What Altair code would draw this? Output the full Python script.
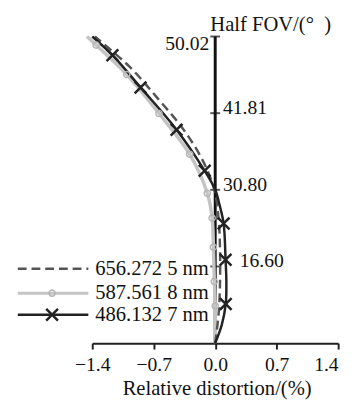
import altair as alt
import pandas as pd

FONT = "'Liberation Serif', 'Times New Roman', Times, 'DejaVu Serif', serif"

SERIES = ["656.272 5 nm", "587.561 8 nm", "486.132 7 nm"]

# normalized field (0..1) vs relative distortion (%)
FIELD_656 = [0.0, 0.1, 0.2, 0.3, 0.4, 0.5, 0.6, 0.7, 0.8, 0.9, 1.0]
DIST_656 = [0.0, 0.04, 0.055, 0.055, 0.04, -0.01, -0.15, -0.37, -0.66, -0.97, -1.37]

FIELD_588 = [0.0, 0.121, 0.201, 0.313, 0.408, 0.489, 0.616, 0.749, 0.876, 0.972, 1.0]
DIST_588 = [0.0, 0.0, -0.01, -0.02, -0.035, -0.09, -0.29, -0.64, -1.007, -1.356, -1.46]
MARK_588 = [0, 1, 1, 1, 1, 1, 1, 1, 1, 1, 0]

FIELD_486 = [0.0, 0.06, 0.128, 0.2, 0.272, 0.39, 0.45, 0.5, 0.562, 0.696, 0.834, 0.939, 1.0]
DIST_486 = [0.0, 0.075, 0.12, 0.127, 0.118, 0.096, 0.05, 0.0, -0.12, -0.44, -0.85, -1.17, -1.40]
MARK_486 = [0, 0, 1, 0, 1, 1, 0, 0, 1, 1, 1, 1, 0]

Y_TICKS = [0.25, 0.5, 0.75, 1.0]
Y_TICK_LABELS = ["16.60", "30.80", "41.81", "50.02"]
X_TICKS = [-1.4, -0.7, 0.0, 0.7, 1.4]

df656 = pd.DataFrame({"field": FIELD_656, "dist": DIST_656})
df588 = pd.DataFrame({"field": FIELD_588, "dist": DIST_588, "mark": MARK_588})
df486 = pd.DataFrame({"field": FIELD_486, "dist": DIST_486, "mark": MARK_486})
axis_df = pd.DataFrame({"dist": [0.0, 0.0], "field": [0.0, 1.0]})
tick_df = pd.DataFrame({"dist": [0.0] * len(Y_TICKS), "field": Y_TICKS, "label": Y_TICK_LABELS})
legend_df = pd.DataFrame({"series": SERIES})

xs = alt.Scale(domain=[-1.4, 1.4], nice=False, zero=False)
ys = alt.Scale(domain=[0, 1], nice=False, zero=False)

x_axis = alt.Axis(
    values=X_TICKS, format=".1f", title="Relative distortion/(%)", grid=False,
    domainColor="#222222", domainWidth=2, tickColor="#222222", tickWidth=2, tickSize=6,
    labelFont=FONT, labelFontSize=20, labelColor="#111111", labelPadding=6,
    labelFlush=False, labelOverlap=False,
    labelAlign={"condition": {"test": "datum.value >= 1.39", "value": "right"}, "value": "center"},
    titleFont=FONT, titleFontSize=21, titleFontWeight="normal", titleColor="#111111",
    titleY=52, titleX=127, titleBaseline="alphabetic", titleAlign="center",
)


def X():
    return alt.X("dist:Q", scale=xs, axis=x_axis)


def Y():
    return alt.Y("field:Q", scale=ys, axis=None)


axis_line = alt.Chart(axis_df).mark_line(color="#111111", strokeWidth=3).encode(
    x=X(), y=Y(), order="field:Q")

ticks = alt.Chart(tick_df).mark_tick(orient="horizontal", size=10, thickness=2, color="#111111").encode(
    x=X(), y=Y())

grey_line = alt.Chart(df588).mark_line(color="#c4c4c4", strokeWidth=3.5, interpolate="catmull-rom").encode(
    x=X(), y=Y(), order="field:Q")
dash_line = alt.Chart(df656).mark_line(color="#555555", strokeWidth=2.5, strokeDash=[9, 5],
                                       interpolate="catmull-rom").encode(
    x=X(), y=Y(), order="field:Q")
black_line = alt.Chart(df486).mark_line(color="#222222", strokeWidth=2.5, interpolate="catmull-rom").encode(
    x=X(), y=Y(), order="field:Q")

grey_pts = alt.Chart(df588).transform_filter("datum.mark == 1").mark_point(
    shape="circle", filled=False, size=40, color="#b5b5b5", strokeWidth=1.5, opacity=1).encode(x=X(), y=Y())
black_pts = alt.Chart(df486).transform_filter("datum.mark == 1").mark_point(
    shape="M-1,-1L1,1M-1,1L1,-1", filled=False, size=144, color="#222222", strokeWidth=2.5, opacity=1).encode(
    x=X(), y=Y())

lab_top = alt.Chart(tick_df).transform_filter("datum.field == 1").mark_text(
    align="right", baseline="alphabetic", dx=-6, dy=14, font=FONT, fontSize=20, color="#111111").encode(
    x=X(), y=Y(), text="label:N")
lab_mid = alt.Chart(tick_df).transform_filter("datum.field == 0.5 || datum.field == 0.75").mark_text(
    align="left", baseline="alphabetic", dx=8, dy=1, font=FONT, fontSize=20, color="#111111").encode(
    x=X(), y=Y(), text="label:N")
lab_low = alt.Chart(tick_df).transform_filter("datum.field == 0.25").mark_text(
    align="left", baseline="alphabetic", dx=25, dy=1, font=FONT, fontSize=20, color="#111111").encode(
    x=X(), y=Y(), text="label:N")
y_title = alt.Chart(tick_df).transform_filter("datum.field == 1").mark_text(
    text="Half FOV/(°\u2002)", align="left", baseline="alphabetic", dx=-5, dy=-6,
    font=FONT, fontSize=21, color="#111111").encode(x=X(), y=Y())

# legend (layout in pixels)
LX0, LX1, LMID, LTX = -76, -4, -41, 3
rows = [(SERIES[0], 237), (SERIES[1], 262), (SERIES[2], 284)]

leg_dash = alt.Chart(legend_df).transform_filter(alt.datum.series == SERIES[0]).mark_rule(
    color="#555555", strokeWidth=2.5, strokeDash=[9, 5]).encode(
    x=alt.value(LX0), x2=alt.value(LX1), y=alt.value(rows[0][1]))
leg_grey = alt.Chart(legend_df).transform_filter(alt.datum.series == SERIES[1]).mark_rule(
    color="#c4c4c4", strokeWidth=3).encode(
    x=alt.value(LX0), x2=alt.value(LX1), y=alt.value(rows[1][1]))
leg_grey_pt = alt.Chart(legend_df).transform_filter(alt.datum.series == SERIES[1]).mark_point(
    shape="circle", filled=False, size=40, color="#b5b5b5", strokeWidth=1.5, opacity=1).encode(
    x=alt.value(LMID), y=alt.value(rows[1][1]))
leg_black = alt.Chart(legend_df).transform_filter(alt.datum.series == SERIES[2]).mark_rule(
    color="#222222", strokeWidth=2.5).encode(
    x=alt.value(LX0), x2=alt.value(LX1), y=alt.value(rows[2][1]))
leg_black_pt = alt.Chart(legend_df).transform_filter(alt.datum.series == SERIES[2]).mark_point(
    shape="M-1,-1L1,1M-1,1L1,-1", filled=False, size=144, color="#222222", strokeWidth=2.5, opacity=1).encode(
    x=alt.value(LMID), y=alt.value(rows[2][1]))

leg_texts = [
    alt.Chart(legend_df).transform_filter(alt.datum.series == name).mark_text(
        align="left", baseline="middle", font=FONT, fontSize=21, color="#111111").encode(
        x=alt.value(LTX), y=alt.value(yy), text="series:N")
    for name, yy in rows
]

chart = alt.layer(
    axis_line, ticks, grey_line, dash_line, black_line, grey_pts, black_pts,
    lab_top, lab_mid, lab_low, y_title,
    leg_dash, leg_grey, leg_grey_pt, leg_black, leg_black_pt, *leg_texts,
).properties(
    width=251, height=313,
    autosize=alt.AutoSizeParams(type="none"),
    padding={"left": 86, "top": 25, "right": 8, "bottom": 58},
    background="white",
).configure_view(stroke=None)

chart.save("out.html", embed_options={"renderer": "svg", "actions": False})
